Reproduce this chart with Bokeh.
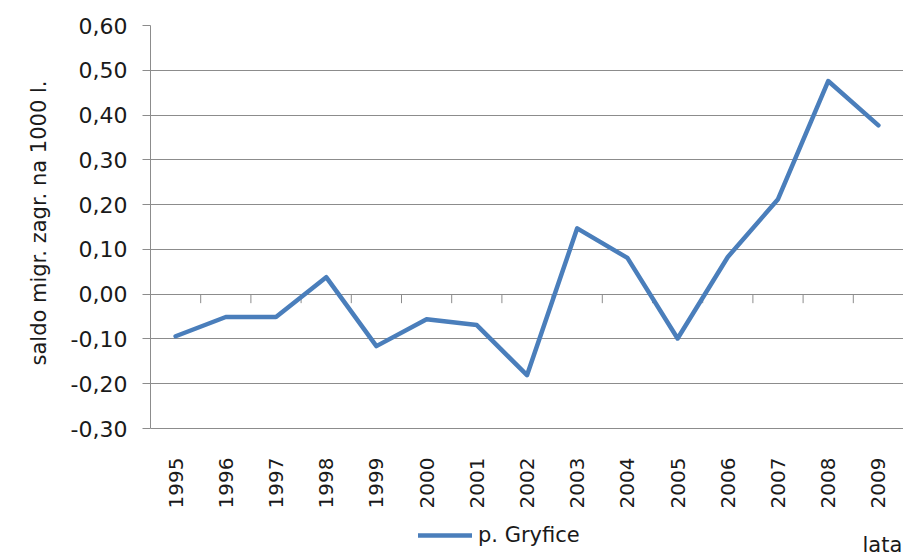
import math
from bokeh.plotting import figure
from bokeh.models import (ColumnDataSource, FixedTicker, Legend, LegendItem,
                          Label, Range1d, Title)
from bokeh.transform import dodge
from bokeh.embed import file_html
from bokeh.resources import INLINE

years = ["1995", "1996", "1997", "1998", "1999", "2000", "2001", "2002",
         "2003", "2004", "2005", "2006", "2007", "2008", "2009"]
values = [-0.094, -0.051, -0.051, 0.038, -0.116, -0.056, -0.069, -0.181,
          0.147, 0.081, -0.099, 0.083, 0.212, 0.476, 0.377]
y_ticks = [-0.3, -0.2, -0.1, 0.0, 0.1, 0.2, 0.3, 0.4, 0.5, 0.6]
y_tick_labels = ["-0,30", "-0,20", "-0,10", "0,00", "0,10", "0,20", "0,30",
                 "0,40", "0,50", "0,60"]
series_name = "p. Gryfice"
y_title = "saldo migr. zagr. na 1000 l."
x_title = "lata"

FONT = "DejaVu Sans"
TEXT = "#1a1a1a"
GRID = "#8c8c8c"
BLUE = "#4a7ebb"

W, H = 903, 557
left = 150
top = 25
axis_h = 403                      # pixel height of the -0,30 .. 0,60 span
px_per_unit = axis_h / (y_ticks[-1] - y_ticks[0])
frame_h = H - top
y_start = y_ticks[-1] - frame_h / px_per_unit

p = figure(x_range=years, y_range=Range1d(y_start, y_ticks[-1]),
           width=W, height=H, output_backend="svg", toolbar_location=None,
           min_border_left=left, min_border_right=0, min_border_top=top,
           min_border_bottom=0)
p.frame_height = frame_h
p.frame_width = W - left
p.outline_line_color = None
p.background_fill_color = "white"
p.border_fill_color = "white"

# y axis
p.yaxis.bounds = (y_ticks[0], y_ticks[-1])
p.yaxis.ticker = FixedTicker(ticks=y_ticks)
p.yaxis.major_label_overrides = {t: l for t, l in zip(y_ticks, y_tick_labels)}
p.yaxis.axis_line_color = GRID
p.yaxis.major_tick_line_color = GRID
p.yaxis.major_tick_out = 8
p.yaxis.major_tick_in = 0
p.yaxis.minor_tick_line_color = None
p.yaxis.major_label_standoff = 15
p.yaxis.major_label_text_font = FONT
p.yaxis.major_label_text_font_size = "22px"
p.yaxis.major_label_text_color = TEXT

# y title, starting 192px above the bottom of the panel
ytitle = Title(text=y_title, align="left", offset=192,
               text_font=FONT, text_font_size="21px", text_font_style="normal",
               text_color=TEXT, standoff=34)
p.add_layout(ytitle, "left")

# x axis drawn at the -0,30 line, labels below it
p.xaxis.fixed_location = y_ticks[0]
p.xaxis.axis_line_color = None
p.xaxis.major_tick_line_color = None
p.xaxis.major_tick_out = 0
p.xaxis.major_tick_in = 0
p.xaxis.major_label_orientation = math.pi / 2
p.xaxis.major_label_standoff = 29
p.xaxis.major_label_text_font = FONT
p.xaxis.major_label_text_font_size = "20px"
p.xaxis.major_label_text_color = TEXT

p.xgrid.grid_line_color = None
p.ygrid.grid_line_color = GRID
p.ygrid.grid_line_width = 1

# category boundary ticks on the zero line
tick_len = 9 / px_per_unit
tsrc = ColumnDataSource(dict(year=years[:-1], y0=[0.0] * (len(years) - 1),
                             y1=[-tick_len] * (len(years) - 1)))
p.segment(x0=dodge("year", 0.5, range=p.x_range), y0="y0",
          x1=dodge("year", 0.5, range=p.x_range), y1="y1",
          source=tsrc, line_color=GRID, line_width=1)

src = ColumnDataSource(dict(year=years, val=values))
r = p.line("year", "val", source=src, line_color=BLUE, line_width=4.5,
           line_join="round", line_cap="round")

legend = Legend(items=[LegendItem(label=series_name, renderers=[r])],
                location=(268, 10), orientation="horizontal")
legend.label_text_font = FONT
legend.label_text_font_size = "21px"
legend.label_text_color = TEXT
legend.glyph_width = 54
legend.glyph_height = 20
legend.label_standoff = 6
legend.padding = 0
legend.margin = 0
legend.border_line_color = None
legend.background_fill_alpha = 0
p.add_layout(legend, "center")

lbl = Label(x=712, y=13, x_units="screen", y_units="screen",
            text=x_title, text_font=FONT, text_font_size="21px",
            text_color=TEXT, text_baseline="middle", text_align="left")
p.add_layout(lbl)

open("out.html", "w").write(file_html(p, INLINE))
